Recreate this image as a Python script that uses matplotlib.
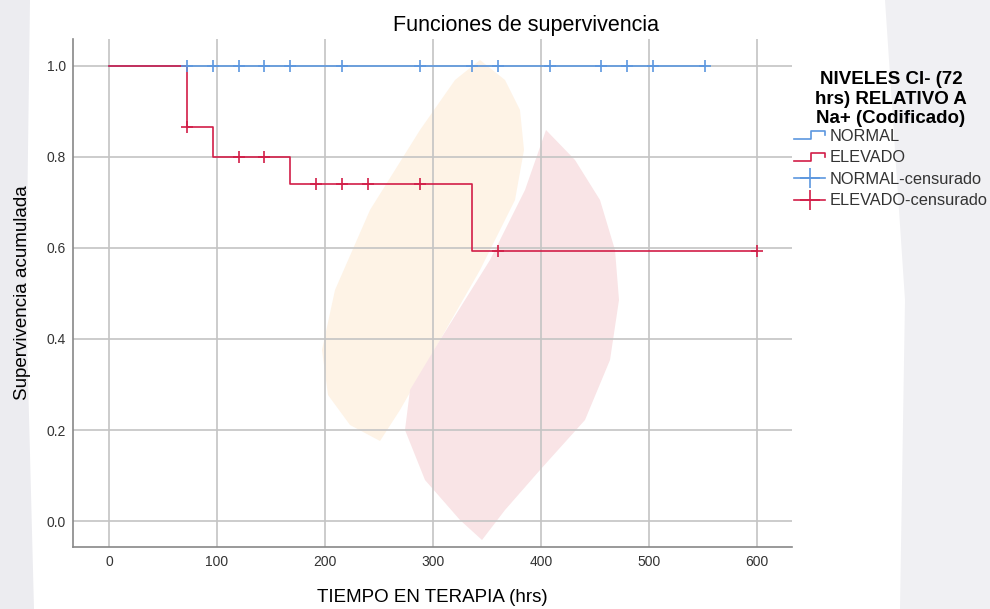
import matplotlib.pyplot as plt
from matplotlib.lines import Line2D
from matplotlib.patches import Polygon
from matplotlib.legend_handler import HandlerBase

plt.rcParams['font.family'] = ['Liberation Sans', 'DejaVu Sans']

# survival steps (time, cumulative survival)
normal_t = [0, 552]
normal_s = [1.0, 1.0]
elevado_t = [0, 72, 96, 168, 336, 600]
elevado_s = [1.0, 0.865, 0.80, 0.74, 0.593, 0.593]

# censored observations
normal_cens_t = [72, 96, 120, 144, 168, 216, 288, 336, 360, 408, 456, 480, 504, 552]
elevado_cens_t = [72, 120, 144, 192, 216, 240, 288, 360, 600]
elevado_cens_s = [0.865, 0.80, 0.80, 0.74, 0.74, 0.74, 0.74, 0.593, 0.593]

blue = '#5C97DF'
red = '#D21E48'

W, H = 990, 609
fig = plt.figure(figsize=(9.9, 6.09), dpi=100)

# faint watermark in a background axes (pixel coords, y down)
bg = fig.add_axes([0, 0, 1, 1], zorder=-5)
bg.set_xlim(0, W)
bg.set_ylim(H, 0)
bg.axis('off')
bg.add_patch(Polygon([(0, 0), (30, 0), (26, 300), (34, 609), (0, 609)], color='#ECECF0', lw=0))
bg.add_patch(Polygon([(885, 0), (990, 0), (990, 609), (900, 609), (905, 300)], color='#F0F0F3', lw=0))
bg.add_patch(Polygon([(480, 60), (505, 80), (520, 110), (524, 150), (515, 200), (480, 270),
                      (440, 340), (400, 410), (380, 441), (350, 425), (328, 395), (322, 350),
                      (335, 290), (370, 210), (420, 130), (455, 80)],
                     color='#FEF3E6', lw=0))
bg.add_patch(Polygon([(546, 130), (575, 160), (600, 200), (615, 250), (619, 300), (610, 360),
                      (585, 420), (540, 470), (505, 510), (482, 540), (460, 520), (425, 480),
                      (405, 430), (410, 390), (440, 340), (490, 260), (525, 190)],
                     color='#F9E4E6', lw=0))

# plot area: left 73, right 792, top 39, bottom 547 (pixels)
ax = fig.add_axes([73 / W, 1 - 547 / H, (792 - 73) / W, (547 - 39) / H])
ax.patch.set_alpha(0)

ax.step(normal_t, normal_s, where='post', color=blue, lw=1.2, zorder=3)
ax.step(elevado_t, elevado_s, where='post', color=red, lw=1.2, zorder=3)
ax.plot(normal_cens_t, [1.0] * len(normal_cens_t), ls='none', marker='+',
        color=blue, ms=8, mew=1.2, zorder=4)
ax.plot(elevado_cens_t, elevado_cens_s, ls='none', marker='+',
        color=red, ms=8, mew=1.2, zorder=4)

ax.set_xlim(-33.3, 632.4)
ax.set_ylim(-0.057, 1.059)
ax.set_xticks([0, 100, 200, 300, 400, 500, 600])
ax.set_yticks([0.0, 0.2, 0.4, 0.6, 0.8, 1.0])
ax.set_yticklabels(['0.0', '0.2', '0.4', '0.6', '0.8', '1.0'])
ax.grid(True, color='#C4C4C4', lw=1.2)
ax.set_axisbelow(True)
ax.tick_params(length=0, labelsize=10, colors='#333333', pad=6)
ax.tick_params(axis='y', pad=5)
for s in ['top', 'right']:
    ax.spines[s].set_visible(False)
for s in ['left', 'bottom']:
    ax.spines[s].set_color('#888888')
    ax.spines[s].set_linewidth(1.2)

ax.set_title('Funciones de supervivencia', fontsize=15.5, x=(526 - 73) / 719, y=1.0, pad=6)
ax.set_xlabel('TIEMPO EN TERAPIA (hrs)', fontsize=13.5, va='center')
ax.xaxis.set_label_coords(0.5, -(597 - 547) / 508)
ax.set_ylabel('Supervivencia acumulada', fontsize=13.5, va='center')
ax.yaxis.set_label_coords(-(73 - 23) / 719, 0.5)


class StepHandler(HandlerBase):
    def create_artists(self, legend, orig_handle, xd, yd, width, height, fontsize, trans):
        c = orig_handle.get_color()
        xm = xd + width * 0.55
        xs = [xd, xm, xm, xd + width, xd + width]
        ys = [yd + height * 0.1, yd + height * 0.1, yd + height * 0.8,
              yd + height * 0.8, yd + height * 0.45]
        ln = Line2D(xs, ys, color=c, lw=1.2, transform=trans)
        return [ln]


h_norm = Line2D([], [], color=blue)
h_elev = Line2D([], [], color=red)
h_ncens = Line2D([], [], color=blue, lw=1.2, marker='+', ms=14, mew=1.2)
h_ecens = Line2D([], [], color=red, lw=1.2, marker='+', ms=14, mew=1.2)

leg = fig.legend([h_norm, h_elev, h_ncens, h_ecens],
                 ['NORMAL', 'ELEVADO', 'NORMAL-censurado', 'ELEVADO-censurado'],
                 handler_map={h_norm: StepHandler(), h_elev: StepHandler()},
                 title='NIVELES Cl- (72\nhrs) RELATIVO A\nNa+ (Codificado)',
                 title_fontproperties={'size': 13.5, 'weight': 'bold'},
                 loc='upper left', bbox_to_anchor=(794 / W, 1 - 71 / H),
                 frameon=False, fontsize=11.8, handlelength=1.9, handletextpad=0.3,
                 labelspacing=0.40, borderaxespad=0, borderpad=0.0)
leg.get_title().set_multialignment('center')
leg._legend_box.align = 'center'
leg._legend_box.sep = 1
for t in leg.get_texts():
    t.set_color('#333333')

fig.savefig('out.png', dpi=100)
